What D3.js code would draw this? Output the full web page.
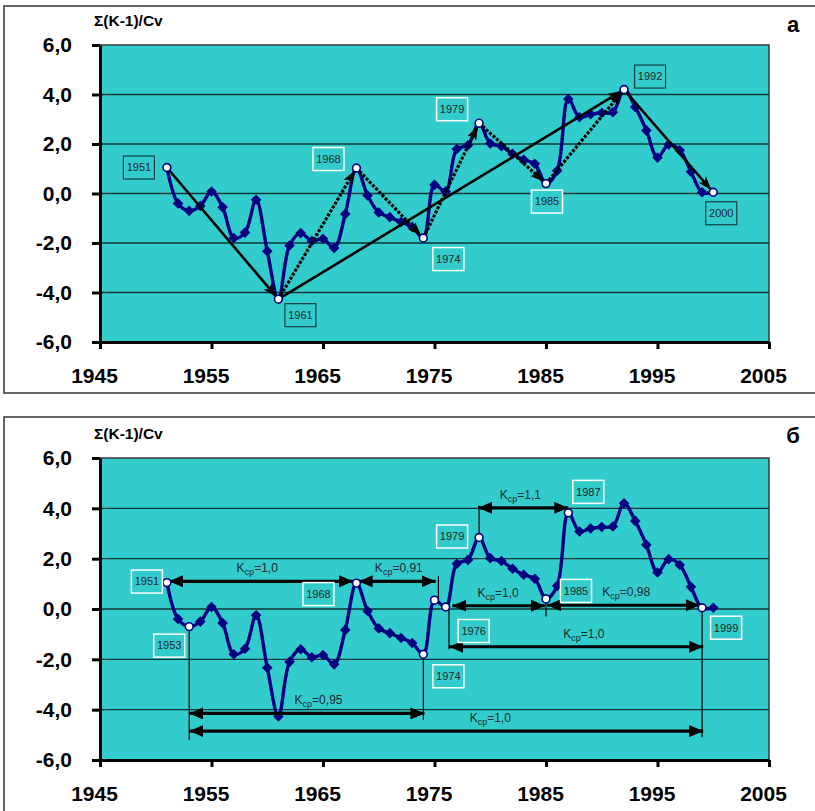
<!DOCTYPE html>
<html>
<head>
<meta charset="utf-8">
<script src="https://cdn.jsdelivr.net/npm/d3@7"></script>
<style>
  body { margin: 0; background: #fff; }
  svg { display: block; font-family: Arial, "Liberation Sans", sans-serif; }
</style>
</head>
<body>
<div id="chart"></div>
<script>
// cumulative curve, one value per year
const years = [1951, 1952, 1953, 1954, 1955, 1956, 1957, 1958, 1959, 1960,
               1961, 1962, 1963, 1964, 1965, 1966, 1967, 1968, 1969, 1970,
               1971, 1972, 1973, 1974, 1975, 1976, 1977, 1978, 1979, 1980,
               1981, 1982, 1983, 1984, 1985, 1986, 1987, 1988, 1989, 1990,
               1991, 1992, 1993, 1994, 1995, 1996, 1997, 1998, 1999, 2000];
const values = [1.05, -0.4, -0.7, -0.5, 0.08, -0.56, -1.8, -1.58, -0.25, -2.33,
                -4.27, -2.1, -1.6, -1.92, -1.83, -2.2, -0.83, 1.03, -0.08, -0.77,
                -0.96, -1.15, -1.35, -1.8, 0.35, 0.08, 1.8, 1.95, 2.84, 2.02,
                1.91, 1.6, 1.36, 1.2, 0.4, 0.92, 3.82, 3.08, 3.2, 3.26,
                3.28, 4.2, 3.5, 2.55, 1.45, 1.98, 1.75, 0.88, 0.05, 0.05];

const xTicks = [1945, 1955, 1965, 1975, 1985, 1995, 2005];
const yTicks = [-6, -4, -2, 0, 2, 4, 6];
const yTitle = "Σ(K-1)/Cv";

// panel а: turning points and trend arrows
const keyYearsA = [1951, 1961, 1968, 1974, 1979, 1985, 1992, 2000];
const solidArrowsA = [[1951, 1961], [1961, 1992], [1992, 2000]];
const dottedArrowsA = [[1961, 1968], [1968, 1974], [1974, 1979], [1979, 1985], [1985, 1992]];

// panel б: turning points, period arrows with mean K, drop lines
const keyYearsB = [1951, 1953, 1968, 1974, 1975, 1976, 1979, 1985, 1987, 1999];
const periodFrom = [1951.2, 1968.2, 1953, 1953, 1976.3, 1976.6, 1985.1, 1978.9];
const periodTo = [1967.7, 1975.1, 1974.1, 1999.1, 1999.1, 1984.9, 1998.8, 1987];
const periodLevel = [1.1, 1.1, -4.15, -4.85, -1.5, 0.13, 0.15, 4.02];
const periodK = ["1,0", "0,91", "0,95", "1,0", "1,0", "1,0", "0,98", "1,1"];
const periodLabelYear = [1959.1, 1971.8, 1964.6, 1980.0, 1988.4, 1980.7, 1992.2, 1982.7];
const dropYears = [1953, 1974, 1999, 1975.35, 1976.3, 1985, 1979];
const dropFrom = [-0.7, -1.8, 0.05, 1.3, 0.25, 0.6, 2.84];
const dropTo = [-5.2, -4.4, -5.1, 0.35, -1.6, -0.3, 4.1];

// label box placement (px offset from the point, dark or white frame)
const boxLayoutA = {
    1951: [-28, 0, true], 1961: [22, 16, true], 1968: [-28, -9, false],
    1974: [25, 21, false], 1979: [-27, -14, false], 1985: [1, 18, false],
    1992: [26, -13, true], 2000: [8, 21, true]
};
const boxLayoutB = {
    1951: [-20, -1, false], 1953: [-20, 19, false], 1968: [-38, 11, false],
    1974: [25, 22, false], 1976: [28, 24, false], 1979: [-27, -1, false],
    1985: [30, -8, false], 1987: [20, -21, false], 1999: [24, 20, false]
};

let teal = "#33cccc",
    navy = "#000080",
    width = 815,
    height = 811;

let series = years.map((yr, i) => ({year: yr, value: values[i]}));
let valueOf = yr => values[years.indexOf(yr)];

let svg = d3.select("#chart")
    .append("svg")
    .attr("width", width)
    .attr("height", height);

let defs = svg.append("defs");

// slim notched head for panel а
defs.append("marker")
    .attr("id", "head_a")
    .attr("viewBox", "0 0 14 10")
    .attr("refX", 13)
    .attr("refY", 5)
    .attr("markerWidth", 14)
    .attr("markerHeight", 10)
    .attr("markerUnits", "userSpaceOnUse")
    .attr("orient", "auto")
    .append("path")
    .attr("d", "M0,0 L14,5 L0,10 L3.5,5 Z")
    .attr("fill", "#000");

// wide triangle head for panel б (both ends)
defs.append("marker")
    .attr("id", "head_b")
    .attr("viewBox", "0 0 14 12")
    .attr("refX", 14)
    .attr("refY", 6)
    .attr("markerWidth", 14)
    .attr("markerHeight", 12)
    .attr("markerUnits", "userSpaceOnUse")
    .attr("orient", "auto-start-reverse")
    .append("path")
    .attr("d", "M0,0 L14,6 L0,12 Z")
    .attr("fill", "#000");


function drawPanel(p) {
    let g = svg.append("g");

    // outer frame
    g.append("rect")
        .attr("x", 4)
        .attr("y", p.frameTop)
        .attr("width", 830)
        .attr("height", p.frameBottom - p.frameTop)
        .attr("fill", "#fff")
        .attr("stroke", "#333")
        .attr("stroke-width", 1.5);

    let x = d3.scaleLinear().domain([1945, 2005]).range([p.left, p.right]);
    let y = d3.scaleLinear().domain([-6, 6]).range([p.bottom, p.top]);

    g.append("rect")
        .attr("x", p.left)
        .attr("y", p.top)
        .attr("width", p.right - p.left)
        .attr("height", p.bottom - p.top)
        .attr("fill", teal)
        .attr("stroke", "#3a3a3a")
        .attr("stroke-width", 1.5);

    // gridlines
    g.append("g")
        .selectAll("line")
        .data(yTicks.filter(d => d > -6 && d < 6))
        .join("line")
        .attr("x1", p.left)
        .attr("x2", p.right)
        .attr("y1", d => y(d))
        .attr("y2", d => y(d))
        .attr("stroke", "#0f3535")
        .attr("stroke-width", 1.3);

    let fmt = d => d.toFixed(1).replace(".", ",");

    let yAxis = g.append("g")
        .attr("transform", `translate(${p.left},0)`)
        .call(d3.axisLeft(y).tickValues(yTicks).tickFormat(fmt)
            .tickSize(8).tickSizeOuter(0).tickPadding(20));
    let xAxis = g.append("g")
        .attr("transform", `translate(0,${p.bottom})`)
        .call(d3.axisBottom(x).tickValues(xTicks).tickFormat(d3.format("d"))
            .tickSize(7).tickSizeOuter(0).tickPadding(19));

    [yAxis, xAxis].forEach(a => {
        a.select(".domain").attr("stroke", "#000").attr("stroke-width", 3);
        a.selectAll(".tick line").attr("stroke", "#000").attr("stroke-width", 3);
        a.selectAll(".tick text")
            .attr("fill", "#000")
            .attr("font-size", 21)
            .attr("font-weight", "bold")
            .attr("font-family", "Arial, 'Liberation Sans', sans-serif");
    });
    xAxis.selectAll(".tick text").attr("dx", -6);

    g.append("text")
        .attr("x", 94)
        .attr("y", p.top - 19)
        .attr("font-size", 15.5)
        .attr("font-weight", "bold")
        .text(yTitle);

    g.append("text")
        .attr("x", 793)
        .attr("y", p.top - p.letterGap)
        .attr("text-anchor", "middle")
        .attr("font-size", 22)
        .attr("font-weight", "bold")
        .text(p.letter);

    // series line with diamonds
    let line = d3.line()
        .x(d => x(d.year))
        .y(d => y(d.value))
        .curve(d3.curveCatmullRom.alpha(0.5));

    g.append("path")
        .datum(series)
        .attr("d", line)
        .attr("fill", "none")
        .attr("stroke", navy)
        .attr("stroke-width", 3.4);

    g.append("g")
        .selectAll("path")
        .data(series.filter(d => !p.keyYears.includes(d.year)))
        .join("path")
        .attr("transform", d => `translate(${x(d.year)},${y(d.value)})`)
        .attr("d", "M0,-5.3 L5.3,0 L0,5.3 L-5.3,0 Z")
        .attr("fill", navy);

    p.annotate(g, x, y);

    // turning points
    g.append("g")
        .selectAll("circle")
        .data(p.keyYears)
        .join("circle")
        .attr("cx", d => x(d))
        .attr("cy", d => y(valueOf(d)))
        .attr("r", 3.9)
        .attr("fill", "#fff")
        .attr("stroke", navy)
        .attr("stroke-width", 1.6);

    // year boxes
    let boxes = g.append("g")
        .selectAll("g")
        .data(p.keyYears.filter(d => p.boxes[d]))
        .join("g")
        .attr("transform", d => {
            let o = p.boxes[d];
            return `translate(${x(d) + o[0]},${y(valueOf(d)) + o[1]})`;
        });
    boxes.append("rect")
        .attr("x", -15.5)
        .attr("y", -11.5)
        .attr("width", 31)
        .attr("height", 23)
        .attr("fill", teal)
        .attr("stroke", d => p.boxes[d][2] ? "#163f3f" : "#fff")
        .attr("stroke-width", d => p.boxes[d][2] ? 1.2 : 1.5);
    boxes.append("text")
        .attr("text-anchor", "middle")
        .attr("dy", "0.35em")
        .attr("font-size", 11)
        .attr("fill", "#1a2a2a")
        .text(d => d);
}


function annotateA(g, x, y) {
    let pt = yr => [x(yr), y(valueOf(yr))];

    // stop a bit short of the target circle
    let arrowPath = (a, b) => {
        let p0 = pt(a), p1 = pt(b);
        let dx = p1[0] - p0[0], dy = p1[1] - p0[1];
        let len = Math.sqrt(dx * dx + dy * dy);
        let k = (len - 4) / len;
        return `M${p0[0]},${p0[1]} L${p0[0] + dx * k},${p0[1] + dy * k}`;
    };

    g.append("g")
        .selectAll("path")
        .data(dottedArrowsA)
        .join("path")
        .attr("d", d => arrowPath(d[0], d[1]))
        .attr("stroke", "#000")
        .attr("stroke-width", 3.2)
        .attr("stroke-dasharray", "3,1.6")
        .attr("fill", "none")
        .attr("marker-end", "url(#head_a)");

    g.append("g")
        .selectAll("path")
        .data(solidArrowsA)
        .join("path")
        .attr("d", d => arrowPath(d[0], d[1]))
        .attr("stroke", "#000")
        .attr("stroke-width", 2.6)
        .attr("fill", "none")
        .attr("marker-end", "url(#head_a)");
}


function annotateB(g, x, y) {
    // thin drop lines from the points
    g.append("g")
        .selectAll("line")
        .data(dropYears.map((yr, i) => ({year: yr, from: dropFrom[i], to: dropTo[i]})))
        .join("line")
        .attr("x1", d => x(d.year))
        .attr("x2", d => x(d.year))
        .attr("y1", d => y(d.from))
        .attr("y2", d => y(d.to))
        .attr("stroke", "#000")
        .attr("stroke-width", 1.2);

    let periods = periodFrom.map((f, i) => ({
        from: f, to: periodTo[i], level: periodLevel[i],
        k: periodK[i], at: periodLabelYear[i]
    }));

    g.append("g")
        .selectAll("line")
        .data(periods)
        .join("line")
        .attr("x1", d => x(d.from))
        .attr("x2", d => x(d.to))
        .attr("y1", d => y(d.level))
        .attr("y2", d => y(d.level))
        .attr("stroke", "#000")
        .attr("stroke-width", 3.2)
        .attr("marker-start", "url(#head_b)")
        .attr("marker-end", "url(#head_b)");

    let labels = g.append("g")
        .selectAll("text")
        .data(periods)
        .join("text")
        .attr("x", d => x(d.at))
        .attr("y", d => y(d.level) - 9)
        .attr("text-anchor", "middle")
        .attr("font-size", 12)
        .attr("fill", "#1a2a2a");
    labels.append("tspan").text("K");
    labels.append("tspan")
        .attr("font-size", 9)
        .attr("dy", 3)
        .text("ср");
    labels.append("tspan")
        .attr("dy", -3)
        .text(d => "=" + d.k);
}


drawPanel({
    frameTop: 6, frameBottom: 393,
    top: 45, bottom: 342, left: 100, right: 769,
    letter: "а", letterGap: 13,
    keyYears: keyYearsA, boxes: boxLayoutA,
    annotate: annotateA
});

drawPanel({
    frameTop: 417, frameBottom: 840,
    top: 458, bottom: 760, left: 100, right: 769,
    letter: "б", letterGap: 15,
    keyYears: keyYearsB, boxes: boxLayoutB,
    annotate: annotateB
});
</script>
</body>
</html>
